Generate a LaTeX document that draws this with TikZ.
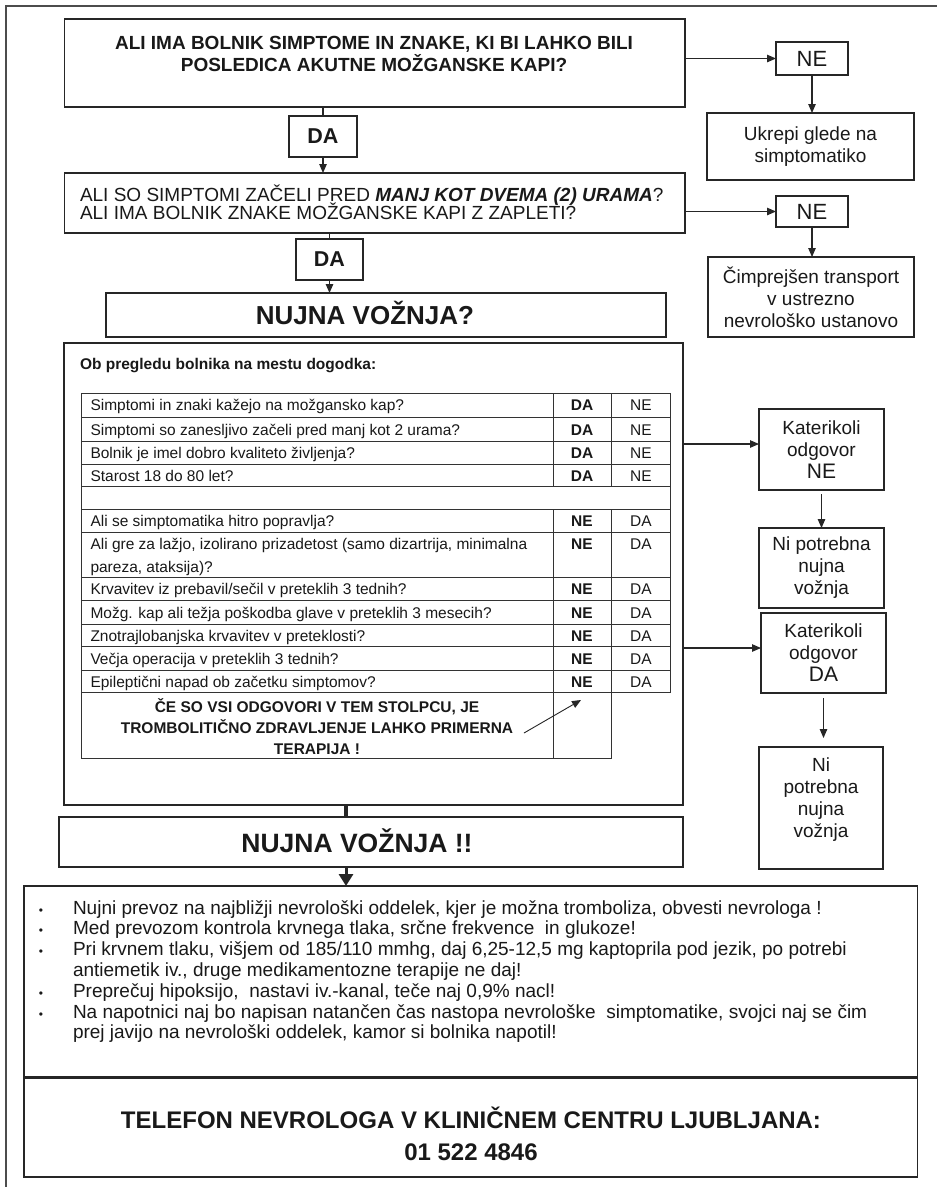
\documentclass[tikz,border=0pt]{standalone}
\usepackage{fontspec}
\setmainfont{Liberation Sans}
\usetikzlibrary{arrows.meta,calc}
\newcommand\fsz[2]{\fontsize{#1}{#2}\selectfont}
\begin{document}
\begin{tikzpicture}[x=1pt,y=-1pt,
  box/.style={draw=black!85, line width=1.35pt, inner sep=0pt, outer sep=0pt, anchor=north west, text=black!90},
  heavybox/.style={box, line width=1.7pt},
  conn/.style={draw=black!85, line width=1.1pt, -{Triangle[length=9pt,width=7.5pt]}},
  plain/.style={draw=black!85, line width=1.1pt},
  tab/.style={draw=black!80, line width=1pt},
  txt/.style={inner sep=0pt, outer sep=0pt, text=black!90},
  big/.style={font=\fsz{22}{24}},
  bigb/.style={font=\fsz{21.5}{24}\bfseries},
  side/.style={font=\fsz{19}{22}, align=center},
  rowt/.style={txt, anchor=base west, font=\fsz{15.5}{18}},
  cellb/.style={txt, anchor=base, font=\fsz{15.5}{18}\bfseries},
  cell/.style={txt, anchor=base, font=\fsz{15.5}{18}},
  bul/.style={txt, anchor=base west, font=\fsz{19}{21}},
  dot/.style={txt, anchor=base, font=\fsz{12}{14}}
]
\useasboundingbox (0,0) rectangle (937,1187);
\fill[white] (0,0) rectangle (937,1187);

% outer frame
\draw[draw=black!70, line width=1.3pt] (6,1187) -- (6,6) -- (937,6);

% helper coordinates
\coordinate (y444) at (0,444);
\coordinate (y648) at (0,648);
\coordinate (x346) at (346,0);
\coordinate (ceA) at (524,733);
\coordinate (ceB) at (581,700);

% ---- first question
\node[box, minimum width=620.5pt, minimum height=88pt] (q1) at (64.5,19) {};
\node[txt, anchor=base, font=\fsz{19}{21}\bfseries] (t1a) at (374,49) {ALI IMA BOLNIK SIMPTOME IN ZNAKE, KI BI LAHKO BILI};
\node[txt, anchor=base, font=\fsz{19}{21}\bfseries] (t1b) at (374,71) {POSLEDICA AKUTNE MOŽGANSKE KAPI?};

\node[box, big, minimum width=72pt, minimum height=33pt] (ne1) at (776,42) {NE};
\node[box, side, minimum width=207pt, minimum height=67pt] (uk) at (707,113) {Ukrepi glede na\\simptomatiko};
\node[box, bigb, minimum width=68pt, minimum height=41pt] (da1) at (289,116) {DA};

% ---- second question
\node[box, minimum width=620.5pt, minimum height=60pt] (q2) at (64.5,173) {};
\node[txt, anchor=base west, font=\fsz{19}{21}] (t2a) at (80,201) {ALI SO SIMPTOMI ZAČELI PRED \textbf{\textit{MANJ KOT DVEMA (2) URAMA}}?};
\node[txt, anchor=base west, font=\fsz{19}{21}] (t2b) at (80,219.5) {ALI IMA BOLNIK ZNAKE MOŽGANSKE KAPI Z ZAPLETI?};

\node[box, big, minimum width=72pt, minimum height=31pt] (ne2) at (776,196) {NE};
\node[box, side, minimum width=206pt, minimum height=80pt] (cim) at (708,257) {Čimprejšen transport\\v ustrezno\\nevrološko ustanovo};
\node[box, bigb, minimum width=67pt, minimum height=41pt] (da2) at (296,239) {DA};

% ---- NUJNA VOŽNJA?
\node[box, minimum width=560pt, minimum height=44pt] (nq) at (106,293) {};
\node[txt, anchor=base, font=\fsz{26}{30}\bfseries] (tnq) at (365,324) {NUJNA VOŽNJA?};

% ---- panel
\node[box, minimum width=619pt, minimum height=462pt] (panel) at (64,343) {};
\node[txt, anchor=base west, font=\fsz{15.5}{18}\bfseries] (ob) at (80,369) {Ob pregledu bolnika na mestu dogodka:};

% table grid (upper)
\draw[tab] (81,393.3) rectangle (670,486.7);
\foreach \yy in {417.7,441.7,464.3} \draw[tab] (81,\yy) -- (670,\yy);
\draw[tab] (553,393.3) -- (553,486.7);
\draw[tab] (611.5,393.3) -- (611.5,486.7);
\draw[tab] (81,486.7) -- (81,509.3);
\draw[tab] (670,486.7) -- (670,509.3);
% table grid (lower)
\draw[tab] (81,509.3) -- (670,509.3) -- (670,692.7) -- (81,692.7);
\foreach \yy in {532.3,577.3,600.7,624,646.7,670} \draw[tab] (81,\yy) -- (670,\yy);
\draw[tab] (81,509.3) -- (81,758.3) -- (611.5,758.3) -- (611.5,509.3);
\draw[tab] (553,509.3) -- (553,758.3);

% table texts
\node[rowt] (r1) at (90.5,410.8) {Simptomi in znaki kažejo na možgansko kap?};
\node[cellb] (r1a) at (582,410.8) {DA};
\node[cell] (r1b) at (641,410.8) {NE};
\node[rowt] (r2) at (90.5,435.2) {Simptomi so zanesljivo začeli pred manj kot 2 urama?};
\node[cellb] (r2a) at (582,435.2) {DA};
\node[cell] (r2b) at (641,435.2) {NE};
\node[rowt] (r3) at (90.5,458.7) {Bolnik je imel dobro kvaliteto življenja?};
\node[cellb] (r3a) at (582,458.7) {DA};
\node[cell] (r3b) at (641,458.7) {NE};
\node[rowt] (r4) at (90.5,481.5) {Starost 18 do 80 let?};
\node[cellb] (r4a) at (582,481.5) {DA};
\node[cell] (r4b) at (641,481.5) {NE};

\node[rowt] (r5) at (90.5,526.8) {Ali se simptomatika hitro popravlja?};
\node[cellb] (r5a) at (582,526.8) {NE};
\node[cell] (r5b) at (641,526.8) {DA};
\node[rowt] (r6) at (90.5,549.8) {Ali gre za lažjo, izolirano prizadetost (samo dizartrija, minimalna};
\node[rowt] (r6c) at (90.5,572.3) {pareza, ataksija)?};
\node[cellb] (r6a) at (582,549.8) {NE};
\node[cell] (r6b) at (641,549.8) {DA};
\node[rowt] (r7) at (90.5,594.8) {Krvavitev iz prebavil/sečil v preteklih 3 tednih?};
\node[cellb] (r7a) at (582,594.8) {NE};
\node[cell] (r7b) at (641,594.8) {DA};
\node[rowt] (r8) at (90.5,618.2) {Možg. kap ali težja poškodba glave v preteklih 3 mesecih?};
\node[cellb] (r8a) at (582,618.2) {NE};
\node[cell] (r8b) at (641,618.2) {DA};
\node[rowt] (r9) at (90.5,641.5) {Znotrajlobanjska krvavitev v preteklosti?};
\node[cellb] (r9a) at (582,641.5) {NE};
\node[cell] (r9b) at (641,641.5) {DA};
\node[rowt] (r10) at (90.5,664.2) {Večja operacija v preteklih 3 tednih?};
\node[cellb] (r10a) at (582,664.2) {NE};
\node[cell] (r10b) at (641,664.2) {DA};
\node[rowt] (r11) at (90.5,687.5) {Epileptični napad ob začetku simptomov?};
\node[cellb] (r11a) at (582,687.5) {NE};
\node[cell] (r11b) at (641,687.5) {DA};

\node[cellb] (ce1) at (317,712) {ČE SO VSI ODGOVORI V TEM STOLPCU, JE};
\node[cellb] (ce2) at (317,733) {TROMBOLITIČNO ZDRAVLJENJE LAHKO PRIMERNA};
\node[cellb] (ce3) at (317,754) {TERAPIJA !};
\draw[conn, line width=0.9pt] (ceA) -- (ceB);

% ---- right column of the panel
\node[box, side, minimum width=125pt, minimum height=81pt] (katne) at (759,409) {Katerikoli\\odgovor\\{\fsz{21}{22}NE}};
\node[box, side, minimum width=125pt, minimum height=80pt] (ni1) at (759,528) {Ni potrebna\\nujna\\vožnja};
\node[box, side, minimum width=125pt, minimum height=80pt] (katda) at (761,613) {Katerikoli\\odgovor\\{\fsz{21}{22}DA}};
\node[box, minimum width=124pt, minimum height=122pt] (ni2) at (759,747) {};
\node[txt, side] (tni2) at (821,800) {Ni\\potrebna\\nujna\\vožnja};

% ---- NUJNA VOŽNJA !!
\node[box, minimum width=624pt, minimum height=50pt] (n2) at (59,817) {};
\node[txt, anchor=base, font=\fsz{26.5}{30}\bfseries] (tn2) at (357,852.5) {NUJNA VOŽNJA !!};

% ---- bullet box
\node[heavybox, minimum width=893.5pt, minimum height=191pt] (bulb) at (24,886) {};
\node[dot] (d1) at (41,914) {•};
\node[bul] (b1) at (73,914) {Nujni prevoz na najbližji nevrološki oddelek, kjer je možna tromboliza, obvesti nevrologa !};
\node[dot] (d2) at (41,934.8) {•};
\node[bul] (b2) at (73,934.8) {Med prevozom kontrola krvnega tlaka, srčne frekvence\ \ in glukoze!};
\node[dot] (d3) at (41,955.6) {•};
\node[bul] (b3) at (73,955.6) {Pri krvnem tlaku, višjem od 185/110 mmhg, daj 6,25-12,5 mg kaptoprila pod jezik, po potrebi};
\node[bul] (b3b) at (73,976.4) {antiemetik iv., druge medikamentozne terapije ne daj!};
\node[dot] (d4) at (41,997.2) {•};
\node[bul] (b4) at (73,997.2) {Preprečuj hipoksijo,\ \ nastavi iv.-kanal, teče naj 0,9\% nacl!};
\node[dot] (d5) at (41,1018) {•};
\node[bul] (b5) at (73,1018) {Na napotnici naj bo napisan natančen čas nastopa nevrološke\ \ simptomatike, svojci naj se čim};
\node[bul] (b5b) at (73,1038.8) {prej javijo na nevrološki oddelek, kamor si bolnika napotil!};

% ---- telephone box
\node[heavybox, minimum width=893.5pt, minimum height=99pt] (telb) at (24,1078) {};
\node[txt, anchor=base, font=\fsz{24}{28}\bfseries] (tel1) at (471,1128) {TELEFON NEVROLOGA V KLINIČNEM CENTRU LJUBLJANA:};
\node[txt, anchor=base, font=\fsz{24}{28}\bfseries] (tel2) at (471,1160) {01 522 4846};

% ---- connectors
\draw[conn] (q1.east |- ne1.west) -- (ne1.west);
\draw[conn] (ne1.south) -- (uk.north -| ne1.south);
\draw[plain] (q1.south -| da1.north) -- (da1.north);
\draw[conn] (da1.south) -- (q2.north -| da1.south);
\draw[conn] (q2.east |- ne2.west) -- (ne2.west);
\draw[conn] (ne2.south) -- (cim.north -| ne2.south);
\draw[plain] (q2.south -| da2.north) -- (da2.north);
\draw[conn] (da2.south) -- (nq.north -| da2.south);
\draw[conn] (panel.east |- y444) -- (katne.west |- y444);
\draw[conn] (panel.east |- y648) -- (katda.west |- y648);
\draw[conn, shorten <=4pt] (katne.south) -- (ni1.north -| katne.south);
\draw[conn, shorten <=5pt, shorten >=9pt] (katda.south) -- (ni2.north -| katda.south);
\draw[draw=black!85, line width=3.5pt] (panel.south -| x346) -- (n2.north -| x346);
\draw[draw=black!85, line width=3pt, -{Triangle[length=12pt,width=14pt]}] (n2.south -| x346) -- (bulb.north -| x346);
\end{tikzpicture}
\end{document}
